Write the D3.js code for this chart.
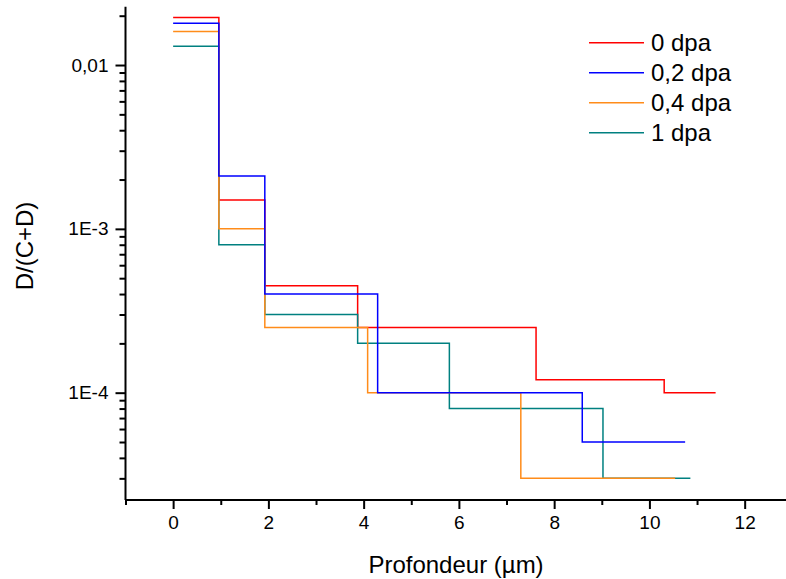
<!DOCTYPE html>
<html>
<head>
<meta charset="utf-8">
<script src="https://cdn.jsdelivr.net/npm/d3@7/dist/d3.min.js"></script>
<style>
  html, body { margin: 0; padding: 0; background: #fff; }
  svg { display: block; font-family: Arial, "Liberation Sans", sans-serif; }
</style>
</head>
<body>
<svg id="chart" width="786" height="579"></svg>
<script>
// ---- data ----
const seriesNames = ["0 dpa", "0,2 dpa", "0,4 dpa", "1 dpa"];
const seriesColors = ["#FF0000", "#0000FF", "#FF8C1A", "#008080"];

const depth0 = [0, 0.96, 1.925, 3.874, 7.62, 10.31, 11.39];
const ratio0 = [0.0195, 1.5e-3, 4.5e-4, 2.5e-4, 1.2e-4, 1e-4, 1e-4];

const depth02 = [0, 0.96, 1.925, 4.294, 8.59, 10.75];
const ratio02 = [0.018, 2.1e-3, 4e-4, 1e-4, 5e-5, 5e-5];

const depth04 = [0, 0.96, 1.925, 4.084, 7.30, 10.54];
const ratio04 = [0.016, 1e-3, 2.5e-4, 1e-4, 3e-5, 3e-5];

const depth1 = [0, 0.96, 1.925, 3.874, 5.80, 9.025, 10.86];
const ratio1 = [0.013, 8e-4, 3e-4, 2e-4, 8e-5, 3e-5, 3e-5];

const xTicksMajor = [0, 2, 4, 6, 8, 10, 12];
const xTicksMinor = [-1, 1, 3, 5, 7, 9, 11, 13];
const yTicksMajor = [1e-2, 1e-3, 1e-4];
const yTickLabels = ["0,01", "1E-3", "1E-4"];
const xDomain = [-1, 13];
const yDomain = [2.213e-5, 0.0227];
const xTitle = "Profondeur (µm)";
const yTitle = "D/(C+D)";

// ---- layout ----
const svg = d3.select("#chart");
const mLeft = 125.5, mRight = 792.3, mTop = 6.7, mBottom = 500;

const x = d3.scaleLinear().domain(xDomain).range([mLeft, mRight]);
const y = d3.scaleLog().domain(yDomain).range([mBottom, mTop]);

// minor y ticks: 2..9 in each decade within domain
const yTicksMinor = [];
for (let e = -5; e <= -2; e++) {
  for (let m = 2; m <= 9; m++) {
    const v = m * Math.pow(10, e);
    if (v >= yDomain[0] && v <= yDomain[1]) yTicksMinor.push(v);
  }
}

// ---- series (draw order: red, teal, orange, blue) ----
const series = [
  {name: seriesNames[0], color: seriesColors[0], xs: depth0, ys: ratio0},
  {name: seriesNames[1], color: seriesColors[1], xs: depth02, ys: ratio02},
  {name: seriesNames[2], color: seriesColors[2], xs: depth04, ys: ratio04},
  {name: seriesNames[3], color: seriesColors[3], xs: depth1, ys: ratio1}
];
const drawOrder = [0, 3, 2, 1];

const line = d3.line()
  .x(d => x(d[0]))
  .y(d => y(d[1]))
  .curve(d3.curveStepAfter);

drawOrder.forEach(i => {
  const s = series[i];
  const pts = s.xs.map((v, k) => [v, s.ys[k]]);
  svg.append("path")
    .attr("d", line(pts))
    .attr("fill", "none")
    .attr("stroke", s.color)
    .attr("stroke-width", 1.5);
});

// ---- axes ----
const axisG = svg.append("g");
const fs = 19;
const ff = "Arial, 'Liberation Sans', sans-serif";

// x axis
const xAxis = d3.axisBottom(x).tickValues(xTicksMajor).tickSize(9).tickPadding(7)
  .tickFormat(d3.format("d"));
const gx = axisG.append("g").attr("transform", `translate(0,${mBottom})`).call(xAxis);
gx.select(".domain").attr("stroke-width", 2).attr("d", `M${mLeft},0H${mRight}`);
gx.selectAll(".tick line").attr("stroke-width", 2);
gx.selectAll(".tick text").attr("font-size", fs).attr("font-family", ff).attr("fill", "#000");
const gxm = axisG.append("g").attr("transform", `translate(0,${mBottom})`)
  .call(d3.axisBottom(x).tickValues(xTicksMinor).tickSize(5).tickFormat(""));
gxm.select(".domain").remove();
gxm.selectAll(".tick line").attr("stroke-width", 2);

// y axis
const yAxis = d3.axisLeft(y).tickValues(yTicksMajor).tickSize(10).tickPadding(7)
  .tickFormat((d, i) => yTickLabels[i]);
const gy = axisG.append("g").attr("transform", `translate(${mLeft},0)`).call(yAxis);
gy.select(".domain").attr("stroke-width", 2).attr("d", `M0,${mBottom}V${mTop}`);
gy.selectAll(".tick line").attr("stroke-width", 2);
gy.selectAll(".tick text").attr("font-size", fs).attr("font-family", ff).attr("fill", "#000");
const gym = axisG.append("g").attr("transform", `translate(${mLeft},0)`)
  .call(d3.axisLeft(y).tickValues(yTicksMinor).tickSize(6).tickFormat(""));
gym.select(".domain").remove();
gym.selectAll(".tick line").attr("stroke-width", 2);

// titles
svg.append("text")
  .attr("x", 456).attr("y", 573)
  .attr("text-anchor", "middle")
  .attr("font-size", 24)
  .text(xTitle);
svg.append("text")
  .attr("transform", "translate(33,246) rotate(-90)")
  .attr("text-anchor", "middle")
  .attr("font-size", 24)
  .text(yTitle);

// legend
const legend = svg.append("g");
seriesNames.forEach((n, i) => {
  const ly = 42.7 + i * 30;
  legend.append("line")
    .attr("x1", 589).attr("x2", 644)
    .attr("y1", ly).attr("y2", ly)
    .attr("stroke", seriesColors[i]).attr("stroke-width", 1.5);
  legend.append("text")
    .attr("x", 651).attr("y", ly)
    .attr("dy", "0.35em")
    .attr("font-size", 24)
    .text(n);
});
</script>
</body>
</html>
